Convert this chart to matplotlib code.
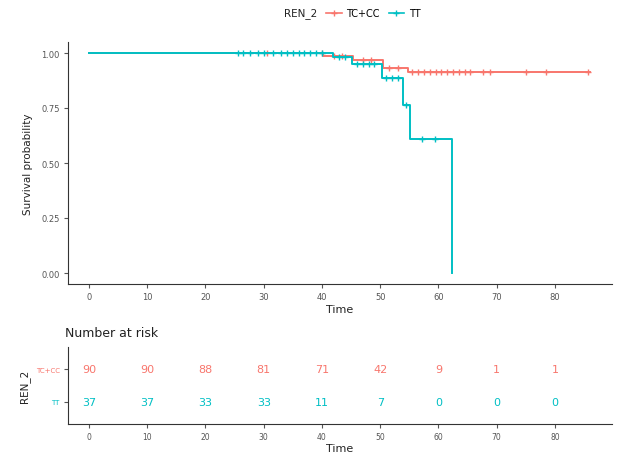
import matplotlib
matplotlib.use("Agg")
import matplotlib.pyplot as plt
from matplotlib.lines import Line2D
import numpy as np

# survival curves (step changes)
groups = ["TC+CC", "TT"]
colors = ["#F8766D", "#00BFC4"]

red_t = [0, 40.1, 45.3, 50.4, 54.7, 86.0]
red_s = [1.0, 0.986, 0.968, 0.932, 0.914, 0.914]
blue_t = [0, 41.9, 45.1, 50.3, 53.9, 55.1, 62.4]
blue_s = [1.0, 0.982, 0.95, 0.887, 0.765, 0.61, 0.0]

# censoring times
red_cens = [30.5, 40.0, 42, 43.5, 47, 48.5, 51.5, 53, 55.5, 56.5, 57.5, 58.5, 59.5,
            60.5, 61.5, 62.5, 63.5, 64.5, 65.5, 67.6, 68.8, 75.0, 78.5, 85.6]
blue_cens = [25.6, 26.5, 27.6, 29.0, 30.0, 31.6, 33.0, 34.0, 35.0, 36.0, 37.0, 38.0,
             39.0, 40.0, 43.0, 44.0, 46.0, 47.0, 48.0, 49.0, 51.0, 52.0, 53.0,
             54.4, 57.1, 59.4]

# number at risk table
risk_times = [0, 10, 20, 30, 40, 50, 60, 70, 80]
risk_red = [90, 90, 88, 81, 71, 42, 9, 1, 1]
risk_blue = [37, 37, 33, 33, 11, 7, 0, 0, 0]

xticks = [0, 10, 20, 30, 40, 50, 60, 70, 80]
yticks = [0.0, 0.25, 0.5, 0.75, 1.0]

W, H = 619, 456
fig = plt.figure(figsize=(W / 100, H / 100), dpi=100)


def box(l, t, r, b):
    return [l / W, 1 - b / H, (r - l) / W, (b - t) / H]


def step_at(times, surv, x):
    i = np.searchsorted(times, x, side="right") - 1
    return np.array(surv)[i]


ax = fig.add_axes(box(68, 43, 612, 285))
for t, s, cens, c in [(red_t, red_s, red_cens, colors[0]),
                      (blue_t, blue_s, blue_cens, colors[1])]:
    ax.step(t, s, where="post", color=c, lw=1.4)
    ax.plot(cens, step_at(t, s, cens), ls="none", marker="+", ms=4.5,
            mew=1.0, color=c)

ax.set_xlim(-3.6, 89.8)
ax.set_ylim(-0.05, 1.05)
ax.set_xticks(xticks)
ax.set_yticks(yticks)
ax.set_yticklabels(["0.00", "0.25", "0.50", "0.75", "1.00"])
ax.set_xlabel("Time", fontsize=8, color="#222222", labelpad=2)
ax.set_ylabel("Survival probability", fontsize=7.5, color="#222222", labelpad=6)
ax.tick_params(labelsize=6, colors="#555555", length=3, pad=3)
for sp in ["top", "right"]:
    ax.spines[sp].set_visible(False)
for sp in ["left", "bottom"]:
    ax.spines[sp].set_color("#333333")

# legend at top
fig.text(284 / W, 1 - 14 / H, "REN_2", fontsize=7.5, color="#222222", va="center")
handles = [Line2D([], [], color=c, marker="+", ms=5, lw=1.2) for c in colors]
fig.legend(handles, groups, loc="center left", bbox_to_anchor=(326 / W, 1 - 14 / H),
           ncol=2, frameon=False, fontsize=7, handlelength=1.6, handletextpad=0.5,
           columnspacing=0.9, borderaxespad=0, borderpad=0)

# risk table
rx = fig.add_axes(box(68, 348, 612, 425))
for i, (vals, c) in enumerate([(risk_blue, colors[1]), (risk_red, colors[0])]):
    for t, v in zip(risk_times, vals):
        rx.text(t, i + 1, str(v), color=c, fontsize=8, ha="center", va="center")
rx.set_xlim(-3.6, 89.8)
rx.set_ylim(0.33, 2.67)
rx.set_xticks(xticks)
rx.set_yticks([1, 2])
rx.set_yticklabels(["TT", "TC+CC"])
rx.tick_params(labelsize=5.5, length=3, pad=3, colors="#555555")
rx.tick_params(axis="y", labelsize=5)
for lab, c in zip(rx.get_yticklabels(), [colors[1], colors[0]]):
    lab.set_color(c)
rx.set_xlabel("Time", fontsize=8, color="#222222", labelpad=1)
rx.set_ylabel("REN_2", fontsize=7.5, color="#222222", labelpad=4)
rx.set_title("Number at risk", fontsize=9, loc="left", x=-0.005, pad=8,
             color="#222222")
for sp in ["top", "right"]:
    rx.spines[sp].set_visible(False)
for sp in ["left", "bottom"]:
    rx.spines[sp].set_color("#333333")

fig.savefig("out.png", dpi=100, facecolor="white")
